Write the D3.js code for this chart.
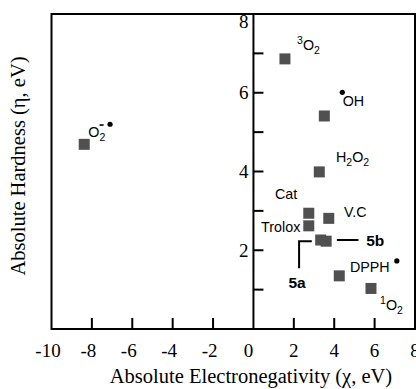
<!DOCTYPE html>
<html>
<head>
<meta charset="utf-8">
<script src="https://cdn.jsdelivr.net/npm/d3@7"></script>
<style>
  html, body { margin: 0; padding: 0; background: #fff; }
  svg { display: block; }
  .num { font-family: "Liberation Serif", "Times New Roman", serif; font-size: 19px; fill: #000; }
  .title { font-family: "Liberation Serif", "Times New Roman", serif; font-size: 20.5px; fill: #000; }
  .lbl { font-family: "Liberation Sans", Arial, sans-serif; font-size: 14.3px; fill: #000; }
  .lbl.bold { font-weight: bold; font-size: 15.5px; }
</style>
</head>
<body>
<div id="chart"></div>
<script>
// squares: absolute electronegativity (chi) vs absolute hardness (eta)
var species = ['O2-', '3O2', 'OH', 'H2O2', 'Cat', 'Trolox', 'V.C', '5a', '5b', 'DPPH', '1O2'];
var chiValues = [-8.38, 1.56, 3.51, 3.26, 2.74, 2.74, 3.73, 3.33, 3.60, 4.25, 5.82];
var etaValues = [4.69, 6.86, 5.41, 3.99, 2.94, 2.62, 2.81, 2.26, 2.23, 1.35, 1.03];

var xTicks = [-10, -8, -6, -4, -2, 0, 2, 4, 6, 8];
var yTicks = [1, 2, 3, 4, 5, 6, 7, 8];
var yTickLabels = [2, 4, 6, 8];

// text labels, placed in data units (start of text, baseline)
var labelParts = [
    [['O', ''], ['2', 'sub']],
    [['3', 'sup'], ['O', ''], ['2', 'sub']],
    [['OH', '']],
    [['H', ''], ['2', 'sub'], ['O', ''], ['2', 'sub']],
    [['Cat', '']],
    [['Trolox', '']],
    [['V.C', '']],
    [['5a', '']],
    [['5b', '']],
    [['DPPH', '']],
    [['1', 'sup'], ['O', ''], ['2', 'sub']]
];
var labelX = [-8.18, 2.16, 4.42, 4.09, 1.07, 0.38, 4.49, 1.73, 5.58, 4.78, 6.27];
var labelY = [4.88, 7.09, 5.66, 4.25, 3.29, 2.47, 2.84, 1.05, 2.12, 1.46, 0.48];
var labelBold = [false, false, false, false, false, false, false, true, true, false, false];

// radical dots
var dotX = [-7.10, 4.40, 7.10];
var dotY = [5.20, 6.01, 1.73];

// bracket lines for 5a and 5b
var brackets = [
    [[2.89, 2.23], [2.26, 2.23], [2.26, 1.54]],
    [[4.13, 2.26], [5.20, 2.26]]
];

var width = 416, height = 389;
var margin = {top: 14, right: 1, bottom: 60, left: 51.5};

var x = d3.scaleLinear().domain([-10, 8]).range([margin.left, width - margin.right]);
var y = d3.scaleLinear().domain([0, 8]).range([height - margin.bottom, margin.top]);

var svg = d3.select('#chart').append('svg')
    .attr('width', width)
    .attr('height', height);

// frame
svg.append('rect')
    .attr('x', x(-10))
    .attr('y', y(8))
    .attr('width', x(8) - x(-10))
    .attr('height', y(0) - y(8))
    .attr('fill', 'none')
    .attr('stroke', '#000')
    .attr('stroke-width', 2);

// vertical axis at chi = 0, ticks pointing right
var yAxis = svg.append('g').attr('transform', 'translate(' + x(0) + ',0)');
yAxis.append('line')
    .attr('y1', y(0)).attr('y2', y(8))
    .attr('stroke', '#000').attr('stroke-width', 2);
yAxis.selectAll('line.tick')
    .data(yTicks)
    .enter().append('line')
    .attr('class', 'tick')
    .attr('x1', 0).attr('x2', 10)
    .attr('y1', function(d) { return y(d); })
    .attr('y2', function(d) { return y(d); })
    .attr('stroke', '#000').attr('stroke-width', 2);
yAxis.selectAll('text')
    .data(yTickLabels)
    .enter().append('text')
    .attr('class', 'num')
    .attr('x', -5)
    .attr('y', function(d) { return y(d); })
    .attr('dy', function(d) { return d === 8 ? '0.75em' : '0.35em'; })
    .attr('text-anchor', 'end')
    .text(function(d) { return d; });

// bottom ticks pointing up
var xAxis = svg.append('g').attr('transform', 'translate(0,' + y(0) + ')');
xAxis.selectAll('line')
    .data(xTicks.filter(function(d) { return d > -10 && d < 8 && d !== 0; }))
    .enter().append('line')
    .attr('x1', function(d) { return x(d); })
    .attr('x2', function(d) { return x(d); })
    .attr('y1', 0).attr('y2', -11)
    .attr('stroke', '#000').attr('stroke-width', 2);
xAxis.selectAll('text')
    .data(xTicks)
    .enter().append('text')
    .attr('class', 'num')
    .attr('x', function(d) { return x(d); })
    .attr('dx', function(d) { return d < 0 ? -3.5 : (d === 0 ? -5 : 0); })
    .attr('y', 28)
    .attr('text-anchor', 'middle')
    .text(function(d) { return d; });

// axis titles
svg.append('text')
    .attr('class', 'title')
    .attr('x', 251)
    .attr('y', 383)
    .attr('text-anchor', 'middle')
    .text('Absolute Electronegativity (\u03C7, eV)');

svg.append('text')
    .attr('class', 'title')
    .attr('transform', 'translate(25,166) rotate(-90)')
    .attr('text-anchor', 'middle')
    .text('Absolute Hardness (\u03B7, eV)');

// bracket lines
svg.selectAll('path.bracket')
    .data(brackets)
    .enter().append('path')
    .attr('class', 'bracket')
    .attr('d', d3.line().x(function(d) { return x(d[0]); }).y(function(d) { return y(d[1]); }))
    .attr('fill', 'none')
    .attr('stroke', '#000')
    .attr('stroke-width', 2);

// squares
var size = 11;
svg.selectAll('rect.pt')
    .data(species)
    .enter().append('rect')
    .attr('class', 'pt')
    .attr('x', function(d, i) { return x(chiValues[i]) - size / 2; })
    .attr('y', function(d, i) { return y(etaValues[i]) - size / 2; })
    .attr('width', size)
    .attr('height', size)
    .attr('fill', '#505050');

// radical dots
svg.selectAll('circle.dot')
    .data(dotX)
    .enter().append('circle')
    .attr('class', 'dot')
    .attr('cx', function(d) { return x(d); })
    .attr('cy', function(d, i) { return y(dotY[i]); })
    .attr('r', 2.6)
    .attr('fill', '#000');

// labels
var labels = svg.selectAll('text.lbl')
    .data(labelParts)
    .enter().append('text')
    .attr('class', function(d, i) { return labelBold[i] ? 'lbl bold' : 'lbl'; })
    .attr('x', function(d, i) { return x(labelX[i]); })
    .attr('y', function(d, i) { return y(labelY[i]); });

labels.each(function(parts) {
    var t = d3.select(this);
    var shift = 0;
    parts.forEach(function(p) {
        var target = p[1] === 'sub' ? 4 : (p[1] === 'sup' ? -6 : 0);
        var ts = t.append('tspan')
            .attr('dy', target - shift)
            .text(p[0]);
        if (p[1]) ts.style('font-size', '10.5px');
        shift = target;
    });
});

// the minus charge over O2
svg.append('line')
    .attr('x1', x(-7.62)).attr('x2', x(-7.42))
    .attr('y1', y(5.18)).attr('y2', y(5.18))
    .attr('stroke', '#000').attr('stroke-width', 1.6);
</script>
</body>
</html>
